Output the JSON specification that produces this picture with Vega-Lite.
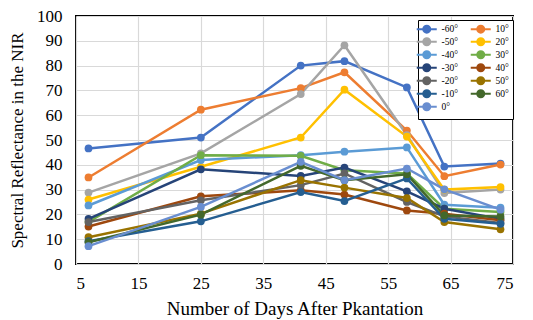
{
"$schema": "https://vega.github.io/schema/vega-lite/v6.json",
"width": 437, "height": 248,
"autosize": "none",
"padding": {"left": 76, "top": 16, "right": 20, "bottom": 56},
"config": {"view": {"stroke": "#000", "strokeWidth": 2}, "font": "'Liberation Serif', 'Times New Roman', serif"},
"datasets": {"d": [
{"angle":"-60°","day":7,"r":46.6},{"angle":"-60°","day":25,"r":51},{"angle":"-60°","day":41,"r":80},{"angle":"-60°","day":48,"r":81.8},{"angle":"-60°","day":58,"r":71.2},{"angle":"-60°","day":64,"r":39.3},{"angle":"-60°","day":73,"r":40.5},
{"angle":"10°","day":7,"r":34.9},{"angle":"10°","day":25,"r":62.2},{"angle":"10°","day":41,"r":70.9},{"angle":"10°","day":48,"r":77.3},{"angle":"10°","day":58,"r":53.8},{"angle":"10°","day":64,"r":35.4},{"angle":"10°","day":73,"r":40.1},
{"angle":"-50°","day":7,"r":28.8},{"angle":"-50°","day":25,"r":44.6},{"angle":"-50°","day":41,"r":68.5},{"angle":"-50°","day":48,"r":88.2},{"angle":"-50°","day":58,"r":52},{"angle":"-50°","day":64,"r":28.6},{"angle":"-50°","day":73,"r":30},
{"angle":"20°","day":7,"r":26},{"angle":"20°","day":25,"r":39.2},{"angle":"20°","day":41,"r":51},{"angle":"20°","day":48,"r":70.3},{"angle":"20°","day":58,"r":51.4},{"angle":"20°","day":64,"r":30},{"angle":"20°","day":73,"r":31},
{"angle":"-40°","day":7,"r":23.6},{"angle":"-40°","day":25,"r":41.9},{"angle":"-40°","day":41,"r":43.9},{"angle":"-40°","day":48,"r":45.3},{"angle":"-40°","day":58,"r":47},{"angle":"-40°","day":64,"r":23.9},{"angle":"-40°","day":73,"r":22.7},
{"angle":"30°","day":7,"r":17},{"angle":"30°","day":25,"r":43.9},{"angle":"30°","day":41,"r":43.6},{"angle":"30°","day":48,"r":37.8},{"angle":"30°","day":58,"r":36.5},{"angle":"30°","day":64,"r":22.3},{"angle":"30°","day":73,"r":21},
{"angle":"-30°","day":7,"r":18.2},{"angle":"-30°","day":25,"r":38.2},{"angle":"-30°","day":41,"r":35.5},{"angle":"-30°","day":48,"r":38.9},{"angle":"-30°","day":58,"r":29.3},{"angle":"-30°","day":64,"r":22.3},{"angle":"-30°","day":73,"r":18.2},
{"angle":"40°","day":7,"r":15.1},{"angle":"40°","day":25,"r":27.3},{"angle":"40°","day":41,"r":29.7},{"angle":"40°","day":48,"r":28},{"angle":"40°","day":58,"r":21.6},{"angle":"40°","day":64,"r":20.3},{"angle":"40°","day":73,"r":17.6},
{"angle":"-20°","day":7,"r":16.9},{"angle":"-20°","day":25,"r":25.7},{"angle":"-20°","day":41,"r":31.8},{"angle":"-20°","day":48,"r":36.5},{"angle":"-20°","day":58,"r":25},{"angle":"-20°","day":64,"r":19.2},{"angle":"-20°","day":73,"r":16.5},
{"angle":"50°","day":7,"r":10.8},{"angle":"50°","day":25,"r":20.3},{"angle":"50°","day":41,"r":33.8},{"angle":"50°","day":48,"r":30.8},{"angle":"50°","day":58,"r":26.6},{"angle":"50°","day":64,"r":16.9},{"angle":"50°","day":73,"r":14},
{"angle":"-10°","day":7,"r":9.2},{"angle":"-10°","day":25,"r":17.2},{"angle":"-10°","day":41,"r":29},{"angle":"-10°","day":48,"r":25.4},{"angle":"-10°","day":58,"r":34.5},{"angle":"-10°","day":64,"r":18.2},{"angle":"-10°","day":73,"r":16.2},
{"angle":"60°","day":7,"r":8.8},{"angle":"60°","day":25,"r":19.9},{"angle":"60°","day":41,"r":39.6},{"angle":"60°","day":48,"r":33.8},{"angle":"60°","day":58,"r":36.2},{"angle":"60°","day":64,"r":19.6},{"angle":"60°","day":73,"r":19.2},
{"angle":"0°","day":7,"r":7.2},{"angle":"0°","day":25,"r":23},{"angle":"0°","day":41,"r":41.2},{"angle":"0°","day":48,"r":33.8},{"angle":"0°","day":58,"r":38.5},{"angle":"0°","day":64,"r":30.1},{"angle":"0°","day":73,"r":21.9}
]},
"data": {"name": "d"},
"mark": {"type": "line", "strokeWidth": 2.5, "point": {"filled": true, "size": 60}},
"encoding": {
  "x": {"field": "day", "type": "quantitative",
    "scale": {"domain": [5, 75], "nice": false, "zero": false},
    "axis": {"values": [5,15,25,35,45,55,65,75], "title": "Number of Days After Pkantation",
      "titleFontSize": 19, "titleFontWeight": "normal", "titleColor": "#000", "titlePadding": 8,
      "labelFontSize": 17, "labelColor": "#000", "labelPadding": 11,
      "ticks": false, "domain": false, "gridColor": "#d9d9d9", "gridWidth": 1.2}},
  "y": {"field": "r", "type": "quantitative",
    "scale": {"domain": [0, 100], "nice": false},
    "axis": {"values": [0,10,20,30,40,50,60,70,80,90,100], "title": "Spectral Reflectance in the NIR",
      "titleFontSize": 17, "titleFontWeight": "normal", "titleColor": "#000", "titlePadding": 10,
      "labelFontSize": 17, "labelColor": "#000", "labelPadding": 14,
      "ticks": false, "domain": false, "gridColor": "#d9d9d9", "gridWidth": 1.2}},
  "color": {"field": "angle", "type": "nominal",
    "scale": {"domain": ["-60°","-50°","-40°","-30°","-20°","-10°","0°","10°","20°","30°","40°","50°","60°"],
      "range": ["#4472C4","#A5A5A5","#5B9BD5","#264478","#636363","#255E91","#698ED0","#ED7D31","#FFC000","#70AD47","#9E480E","#997300","#43682B"]},
    "legend": {"title": null, "orient": "none", "legendX": 342, "legendY": 4, "columns": 2,
      "strokeColor": "#000", "fillColor": "#fff", "padding": 4,
      "labelFontSize": 9.5, "labelColor": "#000", "labelOffset": 10,
      "symbolType": "M-2.86,0L2.86,0M-1,0A1,1 0 1,0 1,0A1,1 0 1,0 -1,0",
      "symbolSize": 49, "symbolStrokeWidth": 2, "rowPadding": -3, "columnPadding": 8,
      "encode": {"symbols": {"update": {"fill": {"scale": "color", "field": "value"}}}}}}
}
}
